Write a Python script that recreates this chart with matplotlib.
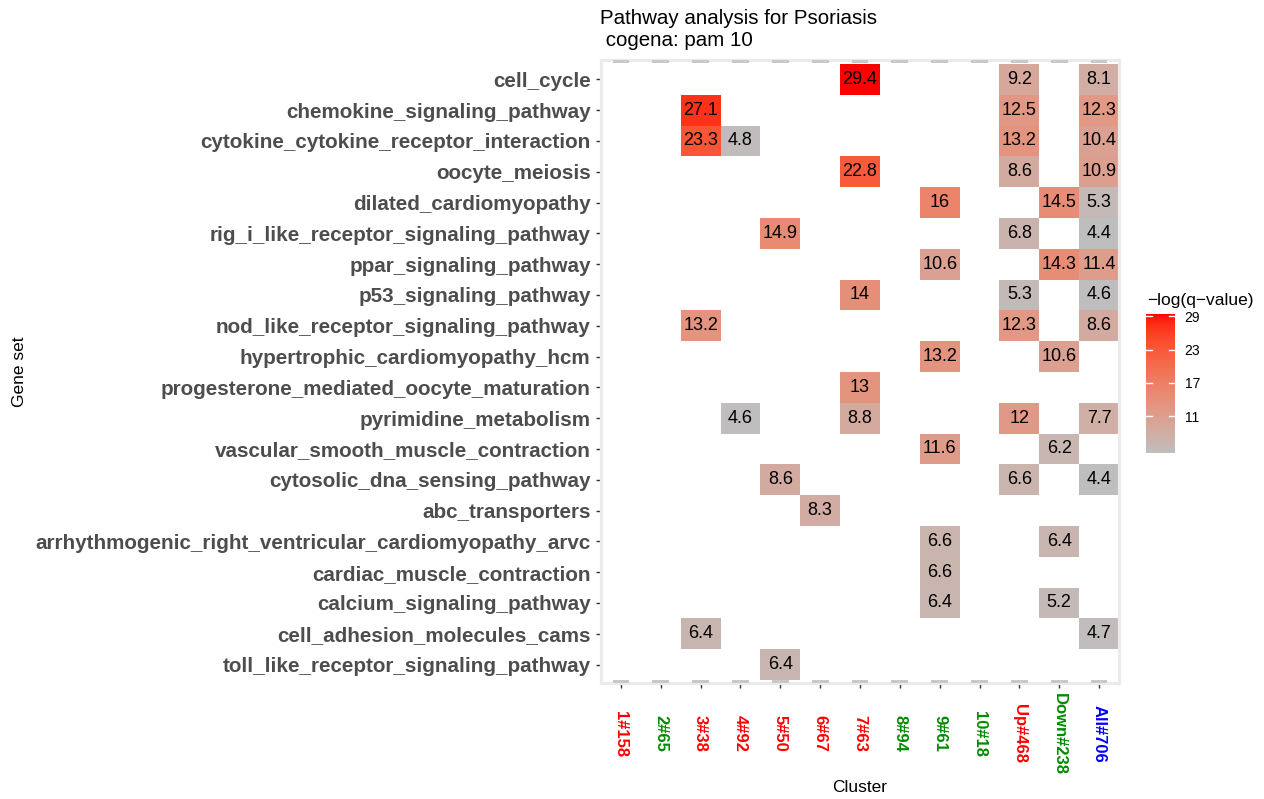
import matplotlib
matplotlib.use("Agg")
import matplotlib.pyplot as plt
from matplotlib.colors import ListedColormap, Normalize
from matplotlib.patches import Rectangle
import numpy as np

plt.rcParams['font.family'] = ['Liberation Sans', 'DejaVu Sans']

pathways = ["cell_cycle", "chemokine_signaling_pathway",
            "cytokine_cytokine_receptor_interaction", "oocyte_meiosis",
            "dilated_cardiomyopathy", "rig_i_like_receptor_signaling_pathway",
            "ppar_signaling_pathway", "p53_signaling_pathway",
            "nod_like_receptor_signaling_pathway", "hypertrophic_cardiomyopathy_hcm",
            "progesterone_mediated_oocyte_maturation", "pyrimidine_metabolism",
            "vascular_smooth_muscle_contraction", "cytosolic_dna_sensing_pathway",
            "abc_transporters", "arrhythmogenic_right_ventricular_cardiomyopathy_arvc",
            "cardiac_muscle_contraction", "calcium_signaling_pathway",
            "cell_adhesion_molecules_cams", "toll_like_receptor_signaling_pathway"]

clusters = ["1#158", "2#65", "3#38", "4#92", "5#50", "6#67", "7#63", "8#94",
            "9#61", "10#18", "Up#468", "Down#238", "All#706"]
cluster_colors = ["red", "green4", "red", "red", "red", "red", "red", "green4",
                  "green4", "green4", "red", "green4", "blue"]

# significant hits: pathway, cluster, -log(q-value)
hit_pathway = ["cell_cycle", "cell_cycle", "cell_cycle",
               "chemokine_signaling_pathway", "chemokine_signaling_pathway", "chemokine_signaling_pathway",
               "cytokine_cytokine_receptor_interaction", "cytokine_cytokine_receptor_interaction",
               "cytokine_cytokine_receptor_interaction", "cytokine_cytokine_receptor_interaction",
               "oocyte_meiosis", "oocyte_meiosis", "oocyte_meiosis",
               "dilated_cardiomyopathy", "dilated_cardiomyopathy", "dilated_cardiomyopathy",
               "rig_i_like_receptor_signaling_pathway", "rig_i_like_receptor_signaling_pathway",
               "rig_i_like_receptor_signaling_pathway",
               "ppar_signaling_pathway", "ppar_signaling_pathway", "ppar_signaling_pathway",
               "p53_signaling_pathway", "p53_signaling_pathway", "p53_signaling_pathway",
               "nod_like_receptor_signaling_pathway", "nod_like_receptor_signaling_pathway",
               "nod_like_receptor_signaling_pathway",
               "hypertrophic_cardiomyopathy_hcm", "hypertrophic_cardiomyopathy_hcm",
               "progesterone_mediated_oocyte_maturation",
               "pyrimidine_metabolism", "pyrimidine_metabolism", "pyrimidine_metabolism", "pyrimidine_metabolism",
               "vascular_smooth_muscle_contraction", "vascular_smooth_muscle_contraction",
               "cytosolic_dna_sensing_pathway", "cytosolic_dna_sensing_pathway", "cytosolic_dna_sensing_pathway",
               "abc_transporters",
               "arrhythmogenic_right_ventricular_cardiomyopathy_arvc",
               "arrhythmogenic_right_ventricular_cardiomyopathy_arvc",
               "cardiac_muscle_contraction",
               "calcium_signaling_pathway", "calcium_signaling_pathway",
               "cell_adhesion_molecules_cams", "cell_adhesion_molecules_cams",
               "toll_like_receptor_signaling_pathway"]
hit_cluster = ["7#63", "Up#468", "All#706",
               "3#38", "Up#468", "All#706",
               "3#38", "4#92", "Up#468", "All#706",
               "7#63", "Up#468", "All#706",
               "9#61", "Down#238", "All#706",
               "5#50", "Up#468", "All#706",
               "9#61", "Down#238", "All#706",
               "7#63", "Up#468", "All#706",
               "3#38", "Up#468", "All#706",
               "9#61", "Down#238",
               "7#63",
               "4#92", "7#63", "Up#468", "All#706",
               "9#61", "Down#238",
               "5#50", "Up#468", "All#706",
               "6#67",
               "9#61", "Down#238",
               "9#61",
               "9#61", "Down#238",
               "3#38", "All#706",
               "5#50"]
hit_value = [29.4, 9.2, 8.1,
             27.1, 12.5, 12.3,
             23.3, 4.8, 13.2, 10.4,
             22.8, 8.6, 10.9,
             16, 14.5, 5.3,
             14.9, 6.8, 4.4,
             10.6, 14.3, 11.4,
             14, 5.3, 4.6,
             13.2, 12.3, 8.6,
             13.2, 10.6,
             13,
             4.6, 8.8, 12, 7.7,
             11.6, 6.2,
             8.6, 6.6, 4.4,
             8.3,
             6.6, 6.4,
             6.6,
             6.4, 5.2,
             6.4, 4.7,
             6.4]
cbar_ticks = [11, 17, 23, 29]


# ggplot-like gradient grey -> red interpolated in Lab space
M = np.array([[0.4124, 0.3576, 0.1805], [0.2126, 0.7152, 0.0722], [0.0193, 0.1192, 0.9505]])
WHITE = np.array([0.95047, 1.0, 1.08883])


def to_lab(rgb):
    c = np.asarray(rgb, float) / 255
    c = np.where(c <= 0.04045, c / 12.92, ((c + 0.055) / 1.055) ** 2.4)
    xyz = M @ c / WHITE
    f = np.where(xyz > 0.008856, np.cbrt(xyz), 7.787 * xyz + 16 / 116)
    return np.array([116 * f[1] - 16, 500 * (f[0] - f[1]), 200 * (f[1] - f[2])])


def from_lab(lab):
    fy = (lab[0] + 16) / 116
    f = np.array([fy + lab[1] / 500, fy, fy - lab[2] / 200])
    xyz = np.where(f ** 3 > 0.008856, f ** 3, (f - 16 / 116) / 7.787) * WHITE
    c = np.clip(np.linalg.inv(M) @ xyz, 0, 1)
    return np.where(c <= 0.0031308, 12.92 * c, 1.055 * c ** (1 / 2.4) - 0.055).clip(0, 1)


lo, hi = to_lab([190, 190, 190]), to_lab([255, 0, 0])
cmap = ListedColormap([from_lab(lo + (hi - lo) * t) for t in np.linspace(0, 1, 256)])
cmap.set_bad("white")

mat = np.full((len(pathways), len(clusters)), np.nan)
for p, c, v in zip(hit_pathway, hit_cluster, hit_value):
    mat[pathways.index(p), clusters.index(c)] = v

norm = Normalize(min(hit_value), max(hit_value))

fig = plt.figure(figsize=(12.64, 7.99), dpi=100)
ax = fig.add_axes([601 / 1264, 1 - 683 / 799, 518 / 1264, 623 / 799])

nr, nc = mat.shape
ax.set_xlim(-0.5, nc - 0.5)
ax.set_ylim(nr - 0.4, -0.63)

ax.pcolormesh(np.arange(nc + 1) - 0.5, np.arange(nr + 1) - 0.5,
              np.ma.masked_invalid(mat), cmap=cmap, norm=norm, zorder=1)

for j in range(nr):
    for i in range(nc):
        if not np.isnan(mat[j, i]):
            ax.text(i, j, f"{mat[j, i]:g}", ha="center", va="center",
                    fontsize=13, color="black", zorder=2)

for s in ax.spines.values():
    s.set_color("#ebebeb")
    s.set_linewidth(2.3)

# grey grid stubs sitting on the top and bottom border
for i in range(nc):
    for y0 in (0, 1 - 3 / 623):
        ax.add_patch(Rectangle((i - 0.21, y0), 0.42, 3 / 623, facecolor="#c8c8c8", lw=0,
                               transform=ax.get_xaxis_transform(), clip_on=False, zorder=3))

ax.set_xticks(range(nc))
ax.set_xticklabels(clusters, rotation=-90, fontsize=12, fontweight="bold", va="center")
for lbl, col in zip(ax.get_xticklabels(), cluster_colors):
    lbl.set_color("#008b00" if col == "green4" else col)
ax.set_yticks(range(nr))
ax.set_yticklabels(pathways, fontsize=14.85, fontweight="bold", color="#4d4d4d")
ax.tick_params(length=3.5, width=1, color="#333333", pad=4)
ax.tick_params(axis="x", pad=33)

fig.text(860 / 1264, 1 - 788 / 799, "Cluster", fontsize=12.5, ha="center", va="center")
fig.text(20 / 1264, 1 - 372 / 799, "Gene set", rotation=90, fontsize=12.5,
         ha="center", va="center")
fig.text(600 / 1264, 1 - 9 / 799, "Pathway analysis for Psoriasis\n cogena: pam 10",
         fontsize=14.8, ha="left", va="top", linespacing=1.2)

# colour bar
cax = fig.add_axes([1146 / 1264, 1 - 453 / 799, 29 / 1264, 139 / 799])
cb = fig.colorbar(plt.cm.ScalarMappable(norm=norm, cmap=cmap), cax=cax)
cb.outline.set_visible(False)
cb.set_ticks(cbar_ticks)
cax.tick_params(length=0, labelsize=10, pad=7)
for t in cbar_ticks:
    cax.plot([0, 0.2], [t, t], color="white", lw=1)
    cax.plot([0.8, 1], [t, t], color="white", lw=1)
fig.text(1147 / 1264, 1 - 300 / 799, "\u2212log(q\u2212value)", fontsize=12.5,
         ha="left", va="center")

fig.savefig("out.png", dpi=100)
